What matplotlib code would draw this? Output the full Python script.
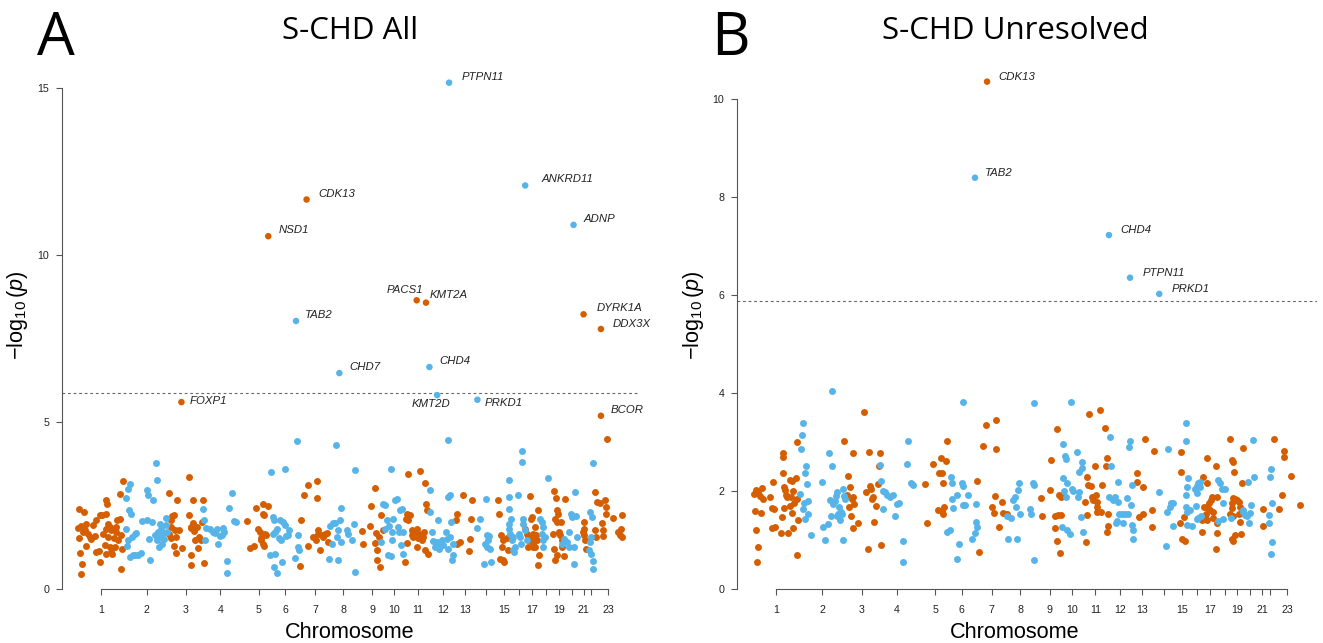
import matplotlib
matplotlib.use("Agg")
import matplotlib.pyplot as plt

# ---------------- data ----------------
# genomic position (cumulative Mb) of chromosome axis ticks
chrom_names = [str(i) for i in range(1, 24)]
chrom_ticks = [124.5, 380, 600, 793, 1007, 1155, 1321, 1478, 1642, 1764, 1895, 2034,
               2157, 2276, 2377, 2460, 2533, 2613, 2683, 2755, 2822, 2863, 2958]
shown_labels = ["1", "2", "3", "4", "5", "6", "7", "8", "9", "10", "11", "12", "13",
                "15", "17", "19", "21", "23"]
threshold = 5.88

# Panel A (S-CHD All) : odd chromosomes (orange)
a_orange = [
    (3,2.41),(29,2.31),(0,1.84),(16,1.88),(3,1.54),(26,1.71),(44,1.96),(35,1.76),(54,1.66),(63,1.56),
    (44,1.29),(11,1.08),(22,0.76),(13,0.46),(72,1.51),(91,1.58),(100,2.06),(119,2.21),(96,1.11),(123,0.81),
    (115,1.14),(137,1.66),(156,2.66),(160,2.56),(152,2.26),(165,1.96),(156,1.81),(175,1.86),(165,1.56),
    (184,1.76),(147,1.31),(152,1.04),(175,1.26),(190,1.04),(197,1.54),(208,1.71),(216,2.06),(231,2.11),
    (212,1.86),(221,1.46),(240,1.61),(244,1.21),(236,0.61),(203,1.26),(180,1.11),(234,2.86),(248,3.24),
    (130,2.23),(82,1.91),
    (506,2.88),(525,2.18),(514,2.06),(532,2.21),(504,1.66),(514,1.54),(519,1.86),(538,1.76),(547,1.56),
    (534,1.29),(547,1.08),(551,2.66),(562,1.76),(581,1.23),(616,3.37),(618,2.21),(626,1.86),(640,1.98),
    (631,1.84),(646,1.73),(650,1.48),(663,1.86),(674,1.56),(668,1.24),(631,1.03),(631,0.72),(640,2.68),
    (696,2.66),(691,2.01),(700,0.78),(683,1.46),
    (944,2.03),(957,1.24),(981,1.30),(991,2.43),(1004,1.81),(1013,1.71),(1017,1.54),(1028,2.56),(1032,2.26),
    (1035,2.21),(1022,1.46),(1028,1.36),(1035,1.29),(1050,1.61),(1060,2.48),(1041,1.66),
    (1242,2.08),(1240,0.68),(1261,2.81),(1280,3.13),(1283,1.29),(1311,1.56),(1326,1.48),(1333,3.24),
    (1333,2.73),(1335,1.78),(1339,1.66),(1348,1.16),(1358,1.61),(1367,1.56),(1376,1.66),(1386,1.68),(1395,1.41),
    (1581,1.73),(1587,1.36),(1628,1.89),(1633,2.50),(1656,3.03),(1661,1.69),(1656,1.38),(1665,1.16),
    (1669,0.88),(1684,0.66),(1680,1.56),(1688,2.21),(1699,1.76),
    (1824,0.81),(1829,2.11),(1837,2.26),(1842,3.44),(1852,2.21),(1833,1.38),(1842,2.06),(1861,1.76),
    (1861,1.61),(1870,1.56),(1879,1.66),(1885,1.74),(1889,1.81),(1892,1.26),(1898,1.54),(1907,3.54),
    (1904,1.66),(1917,1.46),(1922,1.56),(1935,3.18),(1941,2.54),(1945,2.36),(1935,1.16),(1954,1.06),(1930,1.71),
    (2109,2.08),(2112,2.26),(2116,1.34),(2131,1.41),(2150,2.83),(2187,1.49),(2192,2.11),(2200,2.68),(2183,1.14),
    (2341,2.68),(2351,2.26),(2358,1.61),(2364,1.26),(2355,0.91),(2370,0.86),(2377,0.81),(2392,1.54),
    (2401,1.16),(2373,1.46),
    (2494,1.81),(2504,1.66),(2513,1.56),(2522,2.78),(2526,2.11),(2532,2.16),(2518,1.46),(2532,1.46),
    (2537,1.66),(2541,1.36),(2545,1.56),(2550,1.26),(2556,1.61),(2560,1.46),(2569,2.36),(2574,1.01),
    (2569,0.71),(2541,1.26),(2513,1.26),(2550,1.86),
    (2656,2.94),(2668,2.74),(2671,2.36),(2677,2.26),(2662,2.11),(2671,2.01),(2653,1.66),(2681,1.71),
    (2690,1.61),(2699,1.46),(2656,1.21),(2671,1.01),(2662,0.86),(2709,0.98),(2695,2.01),(2718,2.71),(2699,1.26),
    (2821,2.01),(2824,1.81),(2821,1.61),(2830,1.46),(2835,1.21),(2817,1.71),
    (2886,2.91),(2895,2.61),(2886,1.76),(2891,1.56),(2914,2.58),(2923,1.98),(2928,1.76),(2938,2.66),
    (2947,2.46),(2947,2.26),(2951,4.48),(2984,2.14),(3016,1.71),(3022,1.61),(3029,1.81),(3035,1.56),
    (3035,2.23),(2928,1.58),
]
# Panel A : even chromosomes (blue)
a_blue = [
    (268,2.73),(277,3.01),(286,3.16),(296,2.26),(283,2.36),(264,1.81),(277,1.46),(272,1.29),(286,0.96),
    (301,1.56),(314,1.66),(324,1.68),(305,1.01),(318,1.01),(333,1.03),(352,1.09),(357,2.04),(380,2.06),
    (383,2.96),(389,2.81),(394,1.51),(398,0.88),(413,2.01),(417,2.66),(432,3.78),(436,3.26),(426,1.61),
    (439,1.46),(445,1.71),(450,1.26),(454,1.56),(463,1.81),(458,1.96),(469,1.34),(476,1.51),(488,2.14),
    (491,1.91),(473,1.68),(495,1.71),
    (696,2.39),(702,2.08),(709,1.48),(715,1.83),(734,1.81),(752,1.71),(771,1.81),(762,1.68),(780,1.34),
    (790,1.58),(808,1.83),(814,1.71),(799,1.61),(827,0.84),(827,0.48),(842,2.43),(855,2.88),(870,2.04),(879,2.00),
    (1069,1.03),(1075,3.51),(1088,2.16),(1093,2.06),(1097,1.71),(1088,1.66),(1097,1.04),(1093,0.66),
    (1110,1.81),(1119,1.53),(1110,0.48),(1125,2.06),(1130,1.46),(1138,0.81),(1145,2.02),(1153,3.60),
    (1153,1.91),(1158,1.59),(1171,1.61),(1177,1.78),(1209,0.93),(1222,4.44),(1224,1.61),(1227,1.26),(1233,1.16),
    (1404,1.88),(1419,1.98),(1417,1.34),(1432,1.98),(1436,4.31),(1442,1.56),(1451,1.76),(1460,2.06),
    (1466,2.44),(1469,1.41),(1447,0.88),(1399,0.91),(1497,1.76),(1507,1.66),(1525,1.46),(1540,1.96),
    (1544,3.56),(1544,0.51),
    (1703,2.56),(1712,2.51),(1721,2.06),(1712,1.81),(1736,1.88),(1743,3.61),(1749,1.71),(1749,1.46),
    (1758,2.11),(1689,1.41),(1730,1.01),(1743,0.98),(1768,2.66),(1781,2.71),(1786,1.86),(1792,1.71),
    (1796,2.36),(1805,2.41),(1799,1.33),(1814,1.04),(1810,1.71),
    (1963,2.98),(1963,2.31),(1973,1.71),(1982,1.44),(1991,1.26),(2001,1.41),(2010,2.06),(2016,1.21),
    (2029,1.46),(2019,1.26),(2038,1.31),(2053,1.71),(2060,1.51),(2066,1.21),(2066,4.46),(2066,2.76),
    (2075,2.81),(2075,1.56),(2079,2.01),(2090,1.36),(2090,1.01),(2084,0.88),
    (2228,1.84),(2243,2.11),(2276,2.71),(2280,1.61),(2289,1.46),(2295,1.58),(2271,1.36),(2299,1.21),
    (2302,0.81),(2265,0.76),(2284,1.26),
    (2407,3.26),(2405,2.76),(2405,2.41),(2414,2.11),(2407,1.96),(2407,1.81),(2411,1.66),(2420,1.46),
    (2429,1.56),(2425,1.16),(2433,1.11),(2438,1.26),(2457,2.83),(2463,1.66),(2467,1.56),(2476,4.13),
    (2476,3.81),(2481,2.11),(2485,1.96),(2470,1.36),(2494,1.76),(2504,1.46),
    (2578,2.11),(2587,2.01),(2593,1.86),(2587,1.66),(2593,1.46),(2625,3.34),(2606,1.56),(2593,1.26),
    (2699,1.36),(2712,1.51),(2727,1.41),(2742,1.71),(2749,2.24),(2755,2.16),(2765,0.76),(2774,2.91),
    (2779,2.18),(2783,1.56),(2765,1.26),(2737,1.26),
    (2858,2.31),(2867,2.16),(2872,3.79),(2861,1.56),(2858,1.41),(2854,1.16),(2861,1.06),(2876,0.84),(2872,0.61),
]
# Panel A labelled genes: name, position, -log10 p, chromosome
a_genes = ["PTPN11", "ANKRD11", "CDK13", "ADNP", "NSD1", "PACS1", "KMT2A", "DYRK1A",
           "TAB2", "DDX3X", "CHD4", "CHD7", "KMT2D", "PRKD1", "FOXP1", "BCOR"]
a_gene_x = [2070, 2495, 1274, 2765, 1060, 1889, 1941, 2821, 1215, 2918, 1960, 1457, 2003, 2228, 575, 2918]
a_gene_y = [15.17, 12.09, 11.67, 10.91, 10.57, 8.65, 8.58, 8.23, 8.03, 7.79, 6.65, 6.47, 5.81, 5.67, 5.60, 5.19]
a_gene_chr = [12, 16, 7, 20, 5, 11, 11, 21, 6, 23, 12, 8, 12, 14, 3, 23]

# Panel B (S-CHD Unresolved)
b_orange = [
    (3,1.93),(14,2.01),(27,1.97),(45,2.07),(36,1.90),(51,1.83),(8,1.60),(40,1.56),(12,1.20),(27,0.86),
    (17,0.55),(91,1.87),(106,2.18),(100,1.65),(113,1.63),(100,1.24),(119,1.27),(150,1.15),(156,1.46),
    (161,2.77),(161,2.69),(165,2.37),(169,2.09),(174,2.01),(180,1.92),(184,1.87),(171,1.65),(193,1.15),
    (202,1.70),(208,1.88),(211,2.21),(217,1.99),(224,1.75),(211,1.56),(221,1.24),(235,2.26),(239,1.83),
    (243,2.99),(243,0.69),(248,1.41),(202,2.22),
    (504,3.01),(516,1.92),(522,2.31),(531,1.68),(535,2.09),(539,1.48),(544,1.83),(550,2.77),(553,1.24),
    (550,1.88),(557,1.73),(581,1.35),(613,3.62),(624,1.97),(633,0.81),(642,2.80),(646,2.10),(650,2.05),
    (655,1.83),(664,1.87),(670,1.37),(679,1.69),(692,2.14),(698,2.51),(701,2.78),(705,0.90),
    (951,2.14),(964,1.34),(997,2.55),(1031,2.36),(1038,2.68),(1044,2.37),(1044,1.60),(1049,2.16),
    (1053,1.54),(1056,1.68),(1068,2.61),(1071,3.01),(1025,1.61),
    (1241,2.21),(1252,0.76),(1271,2.92),(1289,3.35),(1321,1.68),(1334,1.56),(1339,1.90),(1345,3.45),
    (1345,2.85),(1363,1.27),(1376,1.78),(1382,1.56),(1404,1.52),
    (1594,1.86),(1598,1.49),(1644,2.02),(1648,2.63),(1672,1.48),(1672,1.24),(1681,3.27),(1685,0.98),
    (1690,1.51),(1700,0.74),(1696,1.92),(1703,1.87),(1705,1.51),
    (1838,1.78),(1844,0.95),(1848,2.29),(1851,1.51),(1857,2.12),(1862,3.56),(1870,2.10),(1875,1.88),
    (1884,1.82),(1894,2.50),(1899,1.92),(1903,1.78),(1907,1.68),(1903,1.58),(1921,3.65),(1925,1.58),
    (1931,2.12),(1949,3.28),(1955,2.50),(1958,2.67),(1962,1.16),(1968,1.54),(1968,1.29),
    (2125,2.19),(2129,2.36),(2140,1.46),(2158,1.54),(2162,2.09),(2171,3.06),(2208,1.61),(2212,1.26),(2221,2.82),
    (2365,1.35),(2369,2.80),(2371,2.39),(2374,1.01),(2393,0.97),(2389,1.46),
    (2485,1.17),(2495,2.28),(2498,1.68),(2504,1.48),(2509,1.54),(2513,1.68),(2517,2.67),(2517,2.17),
    (2522,1.65),(2528,1.75),(2532,1.61),(2535,1.82),(2541,1.88),(2547,1.58),(2550,1.44),(2565,2.50),
    (2569,1.34),(2569,1.14),(2565,0.81),(2572,1.88),(2513,1.41),(2485,1.41),
    (2643,3.07),(2652,2.63),(2661,2.60),(2665,2.39),(2661,1.85),(2670,1.83),(2652,1.75),(2683,1.82),
    (2694,1.78),(2698,1.68),(2652,1.65),(2661,1.49),(2691,1.54),(2698,1.37),(2652,1.03),(2661,0.97),
    (2670,1.10),(2702,1.12),(2707,2.16),(2713,2.87),(2643,1.54),
    (2827,1.63),(2824,1.29),
    (2887,3.06),(2916,1.63),(2929,1.92),(2944,2.82),(2944,2.70),(2979,2.31),(3031,1.71),
]
b_blue = [
    (258,1.94),(261,2.85),(267,3.14),(276,3.38),(285,2.37),(291,2.50),(298,2.14),(276,1.63),(285,1.42),
    (280,1.75),(304,1.54),(317,1.11),(304,1.80),(378,2.19),(383,1.26),(396,1.00),(411,1.33),(420,2.78),
    (424,1.82),(428,1.48),(433,2.50),(433,4.03),(439,1.73),(443,1.78),(452,1.80),(457,1.90),(461,1.97),
    (465,1.49),(470,1.54),(476,1.68),(480,1.41),(483,1.58),(489,1.53),(494,2.03),(498,1.00),(502,1.90),(507,1.83),
    (701,2.53),(705,2.21),(716,1.63),(716,1.99),(729,1.97),(742,1.92),(757,1.87),(775,1.92),(785,1.48),
    (794,1.73),(809,1.75),(831,0.97),(831,0.56),(849,2.55),(858,3.01),(873,2.17),(883,2.12),
    (1071,1.17),(1090,1.20),(1093,2.29),(1099,1.83),(1104,1.65),(1099,2.16),(1127,1.92),(1141,0.91),
    (1127,0.61),(1154,2.17),(1160,2.10),(1164,3.81),(1164,1.71),(1173,1.71),(1191,1.92),(1210,1.03),
    (1228,1.15),(1234,1.73),(1234,1.37),(1241,1.27),
    (1404,1.48),(1413,1.02),(1441,1.82),(1459,1.02),(1456,1.67),(1450,1.87),(1468,2.02),(1474,2.17),
    (1478,1.53),(1533,1.63),(1537,1.53),(1552,2.16),(1557,2.12),(1557,3.80),(1557,0.59),(1430,1.44),
    (1709,1.27),(1714,2.26),(1718,2.96),(1724,1.99),(1727,2.72),(1733,2.65),(1737,2.16),(1733,1.88),
    (1737,1.20),(1755,1.12),(1764,2.03),(1770,2.00),(1792,2.79),(1798,1.88),(1807,1.97),(1807,2.39),
    (1814,1.46),(1820,2.46),(1820,2.60),(1829,1.16),(1759,3.82),
    (1977,3.10),(1973,1.87),(1981,2.51),(1992,1.82),(2005,1.87),(2010,1.34),(2018,1.39),(2023,2.19),
    (2023,1.78),(2029,1.54),(2042,1.54),(2051,1.34),(2060,1.54),(2069,1.85),(2079,1.54),(2084,2.90),
    (2088,3.01),(2093,1.71),(2097,2.12),(2097,1.31),(2106,1.20),(2106,1.03),
    (2251,1.97),(2286,0.88),(2295,1.58),(2301,2.85),(2310,1.68),(2314,1.75),(2325,1.75),(2328,1.29),
    (2397,3.39),(2397,3.02),(2411,2.26),(2402,2.09),(2399,1.92),(2399,1.68),(2402,1.58),(2402,1.31),
    (2421,1.61),(2430,1.29),(2454,1.69),(2458,1.95),(2462,2.10),(2467,2.16),(2473,2.12),(2476,2.09),
    (2467,1.44),(2458,1.42),(2482,1.48),(2448,2.05),(2476,2.19),
    (2578,2.22),(2587,2.17),(2596,2.05),(2606,1.75),(2615,2.04),(2602,1.42),(2578,1.39),
    (2646,1.44),(2717,1.58),(2726,1.51),(2735,1.48),(2750,1.34),(2754,1.56),(2757,1.71),(2745,2.19),
    (2776,2.28),(2772,3.04),(2713,1.61),
    (2868,2.45),(2864,2.29),(2874,1.75),(2861,1.51),(2861,1.34),(2874,0.95),(2868,0.71),
]
b_genes = ["CDK13", "TAB2", "CHD4", "PTPN11", "PRKD1"]
b_gene_x = [1295, 1228, 1971, 2088, 2250]
b_gene_y = [10.35, 8.39, 7.22, 6.35, 6.02]
b_gene_chr = [7, 6, 12, 12, 14]

# ---------------- style ----------------
ORANGE = "#D55E00"
BLUE = "#56B4E9"
AXC = "#555555"
TXT = "#222222"
W, H = 1323, 643

plt.rcParams["font.family"] = ["Liberation Sans", "DejaVu Sans"]
plt.rcParams["mathtext.fontset"] = "custom"
plt.rcParams["mathtext.rm"] = "Liberation Sans"
plt.rcParams["mathtext.it"] = "Liberation Sans:italic"

fig = plt.figure(figsize=(W / 100, H / 100), dpi=100)

# label offsets in pixels (dx, dy, ha)
offs_a = {"PTPN11": (13, 6, "left"), "ANKRD11": (16, 6, "left"), "CDK13": (12, 6, "left"),
          "ADNP": (10, 6, "left"), "NSD1": (10, 6, "left"), "PACS1": (7, 10, "right"),
          "KMT2A": (4, 8, "left"), "DYRK1A": (13, 6, "left"), "TAB2": (9, 6, "left"),
          "DDX3X": (12, 5, "left"), "CHD4": (10, 6, "left"), "CHD7": (10, 6, "left"),
          "KMT2D": (-6, -9, "center"), "PRKD1": (7, -3, "left"), "FOXP1": (8, 1, "left"),
          "BCOR": (10, 6, "left")}
offs_b = {"CDK13": (11, 5, "left"), "TAB2": (10, 5, "left"), "CHD4": (11, 5, "left"),
          "PTPN11": (13, 5, "left"), "PRKD1": (12, 5, "left")}


def panel(rect, orange, blue, genes, gx, gy, gchr, offs, ytop, yticks, title, letter,
          letter_x, ylab_x, text_cx):
    ax = fig.add_axes(rect)
    ax.set_xlim(-92, 3125)
    ax.set_ylim(0, ytop)
    ax.axhline(threshold, color="#666666", lw=0.8, ls=(0, (2.5, 2.5)), zorder=1)
    ox, oy = zip(*orange)
    bx, by = zip(*blue)
    ax.scatter(ox, oy, s=25, color=ORANGE, linewidths=0, zorder=3)
    ax.scatter(bx, by, s=25, color=BLUE, linewidths=0, zorder=3)
    gcol = [ORANGE if c % 2 == 1 else BLUE for c in gchr]
    ax.scatter(gx, gy, s=22, color=gcol, linewidths=0, zorder=3)
    for g, x, y in zip(genes, gx, gy):
        dx, dy, ha = offs[g]
        ax.annotate(g, (x, y), xytext=(dx, dy), textcoords="offset pixels",
                    ha=ha, va="center", fontsize=8.2, style="italic", color=TXT)
    for s in ("top", "right"):
        ax.spines[s].set_visible(False)
    for s in ("left", "bottom"):
        ax.spines[s].set_color(AXC)
        ax.spines[s].set_linewidth(0.8)
    ax.spines["left"].set_bounds(yticks[0], yticks[-1])
    ax.spines["bottom"].set_bounds(chrom_ticks[0], chrom_ticks[-1])
    ax.set_yticks(yticks)
    ax.set_yticklabels([str(t) for t in yticks])
    ax.set_xticks(chrom_ticks)
    ax.set_xticklabels([n if n in shown_labels else "" for n in chrom_names])
    ax.tick_params(axis="both", length=4.2, width=0.8, color=AXC, labelsize=7.7,
                   labelcolor=TXT)
    ax.tick_params(axis="x", pad=7)
    ax.tick_params(axis="y", pad=5)
    cx = text_cx / W
    fig.text(cx, 1 - 39 / H, title, ha="center", va="baseline", fontsize=22.5,
             family=["Open Sans", "DejaVu Sans"], color="black")
    fig.text(letter_x / W, 1 - 55 / H, letter, ha="left", va="baseline", fontsize=43,
             family=["Open Sans", "DejaVu Sans"], color="black")
    fig.text(cx, 1 - 638 / H, "Chromosome", ha="center", va="baseline", fontsize=15.6,
             color="black")
    fig.text(ylab_x / W, 1 - 315 / H, r"$-\log_{10}(p)$", ha="center", va="center",
             rotation=90, fontsize=15.6, color="black")
    return ax


panel([62 / W, 54 / H, 576 / W, 525 / H], a_orange, a_blue, a_genes, a_gene_x, a_gene_y,
      a_gene_chr, offs_a, 15.73, [0, 5, 10, 15], "S-CHD All", "A", 37, 18, 350)
panel([737 / W, 54 / H, 580 / W, 525 / H], b_orange, b_blue, b_genes, b_gene_x, b_gene_y,
      b_gene_chr, offs_b, 10.71, [0, 2, 4, 6, 8, 10], "S-CHD Unresolved", "B", 711, 694, 1015)

fig.savefig("out.png", dpi=100)
